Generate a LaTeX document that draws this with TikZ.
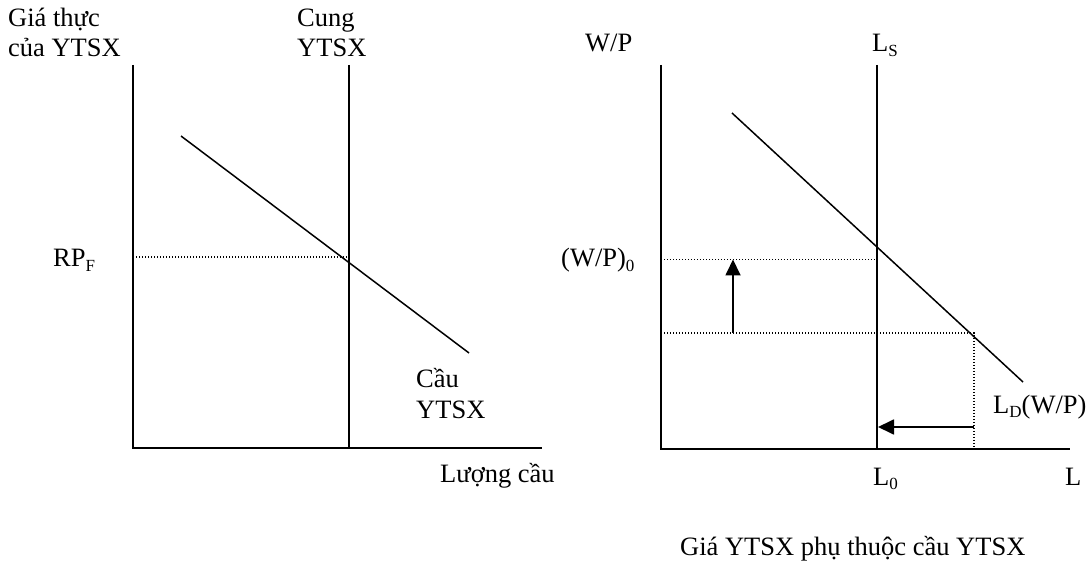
\documentclass[tikz,border=0pt]{standalone}
\usepackage{fontspec}
\setmainfont{Liberation Serif}
\usetikzlibrary{arrows.meta}
\newcommand\sbx[1]{\raisebox{-4.5pt}{\fontsize{17pt}{17pt}\selectfont #1}}
\tikzset{
  lbl/.style={anchor=base west, inner sep=0pt, font=\fontsize{26.5pt}{30pt}\selectfont},
  axisline/.style={line width=2pt},
  curve/.style={line width=1.5pt},
  dotline/.style={line width=1.3pt, dash pattern=on 1.3pt off 1.7pt},
  shift arrow/.style={line width=1.8pt, -{Triangle[length=16pt,width=15pt]}}
}
\begin{document}
\begin{tikzpicture}[x=1pt,y=-1pt]
\useasboundingbox (0,0) rectangle (1087,561);
% ---------- left panel ----------
\coordinate (ltop) at (133,65);
\coordinate (lo) at (133,448);
\coordinate (lxend) at (542,448);
\coordinate (stop) at (349,65);
\coordinate (sbot) at (349,448);
\coordinate (da) at (181,136);
\coordinate (db) at (469,353);
\coordinate (rpa) at (133,257);
\coordinate (rpb) at (349,257);
\draw[axisline] (ltop) -- (lo) -- (lxend);
\draw[axisline] (stop) -- (sbot);
\draw[curve] (da) -- (db);
\draw[dotline] (rpa) -- (rpb);
\node[lbl] (g1) at (8,27) {Giá thực};
\node[lbl] (g2) at (8,57) {của YTSX};
\node[lbl] (c1) at (297,27) {Cung};
\node[lbl] (c2) at (297,57) {YTSX};
\node[lbl] (rp) at (53,267) {RP\sbx{F}};
\node[lbl] (d1) at (416,387) {Cầu};
\node[lbl] (d2) at (416,418) {YTSX};
\node[lbl] (lq) at (440,482) {Lượng cầu};
% ---------- right panel ----------
\coordinate (rtop) at (661,65);
\coordinate (ro) at (661,449);
\coordinate (rxend) at (1070,449);
\coordinate (lstop) at (877,65);
\coordinate (lsbot) at (877,449);
\coordinate (lda) at (732,113);
\coordinate (ldb) at (1023,382);
\coordinate (w0a) at (661,259.5);
\coordinate (w0b) at (877,259.5);
\coordinate (w1a) at (661,333);
\coordinate (w1b) at (974,333);
\coordinate (vb) at (974,449);
\coordinate (upa) at (733,333);
\coordinate (upb) at (733,259.5);
\coordinate (lfa) at (974,427);
\coordinate (lfb) at (878,427);
\draw[axisline] (rtop) -- (ro) -- (rxend);
\draw[axisline] (lstop) -- (lsbot);
\draw[curve] (lda) -- (ldb);
\draw[dotline] (w0a) -- (w0b);
\draw[dotline] (w1a) -- (w1b) -- (vb);
\draw[shift arrow] (upa) -- (upb);
\draw[shift arrow] (lfa) -- (lfb);
\node[lbl] (wp) at (585,52) {W/P};
\node[lbl] (ls) at (872,52) {L\sbx{S}};
\node[lbl] (wp0) at (561,267) {(W/P)\sbx{0}};
\node[lbl] (ld) at (993,413) {L\sbx{D}(W/P)};
\node[lbl] (l0) at (873,485) {L\sbx{0}};
\node[lbl] (ll) at (1065,485) {L};
\node[lbl] (cap) at (680,555) {Giá YTSX phụ thuộc cầu YTSX};
\end{tikzpicture}
\end{document}
